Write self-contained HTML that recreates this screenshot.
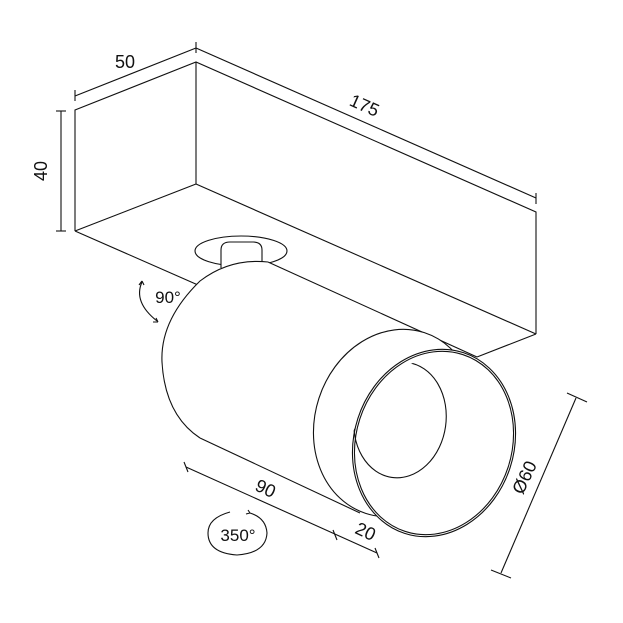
<!DOCTYPE html>
<html><head><style>body{margin:0;background:#fff}svg{display:block}text{font-family:"Liberation Sans",sans-serif;fill:#111}</style></head>
<body>
<svg width="623" height="623" viewBox="0 0 623 623" xmlns="http://www.w3.org/2000/svg" fill="none" stroke="#111" stroke-width="1.1">
<defs>
<clipPath id="fc"><ellipse cx="434" cy="443" rx="78" ry="93" transform="rotate(18 434 443)"/></clipPath>
</defs>
<rect width="623" height="623" fill="#fff" stroke="none"/>
<polyline points="75,231 75,110 196,62 536,212 536,334"/>
<line x1="196" y1="62" x2="196" y2="184"/>
<line x1="75" y1="231" x2="196" y2="184"/>
<line x1="196" y1="184" x2="536" y2="334"/>
<line x1="75" y1="231" x2="198" y2="285"/>
<line x1="536" y1="334" x2="477" y2="357"/>
<line x1="75" y1="96" x2="196" y2="48"/>
<line x1="75" y1="90" x2="75" y2="101"/>
<line x1="196" y1="42" x2="196" y2="53"/>
<line x1="196" y1="48" x2="536" y2="198"/>
<line x1="536" y1="193" x2="536" y2="204"/>
<line x1="61" y1="111" x2="61" y2="231"/>
<line x1="56" y1="111" x2="66" y2="111"/>
<line x1="56" y1="231" x2="66" y2="231"/>
<text x="125" y="68" font-size="18" stroke="none" text-anchor="middle">50</text>
<text x="0" y="0" font-size="18" stroke="none" text-anchor="middle" transform="translate(362,111) rotate(24)">175</text>
<text x="0" y="0" font-size="18" stroke="none" text-anchor="middle" transform="translate(47,171) rotate(-90)">40</text>
<ellipse cx="241" cy="251" rx="46" ry="15"/>
<path d="M221,268 L221,250 Q221,242 230,242 L253,242 Q262,242 262,250 L262,262" fill="#fff"/>
<path d="M268,262 Q230,258 200,281 Q160,320 162,362 Q165,415 200,438 L400,530 L477,357 Z" fill="#fff" stroke="none"/>
<path d="M268,262 Q230,258 200,281 Q160,320 162,362 Q165,415 200,438"/>
<path d="M200,438 L360,513"/>
<path d="M268,262 L477,357"/>
<ellipse cx="395" cy="423" rx="80" ry="95" transform="rotate(18 395 423)" fill="#fff"/>
<ellipse cx="434" cy="443" rx="80" ry="95" transform="rotate(18 434 443)" fill="#fff"/>
<ellipse cx="434" cy="443" rx="78" ry="93" transform="rotate(18 434 443)"/>
<ellipse cx="400" cy="420" rx="46" ry="58" transform="rotate(8 400 420)" clip-path="url(#fc)"/>
<line x1="186" y1="467" x2="377" y2="553"/>
<line x1="184" y1="462" x2="188" y2="472"/>
<line x1="333" y1="530" x2="337" y2="540"/>
<line x1="375" y1="548" x2="379" y2="558"/>
<text font-size="18" stroke="none" text-anchor="middle" transform="translate(263,494) rotate(25)">90</text>
<text font-size="18" stroke="none" text-anchor="middle" transform="translate(363,537) rotate(25)">20</text>
<line x1="576" y1="398" x2="501" y2="573"/>
<line x1="567" y1="393" x2="587" y2="402"/>
<line x1="491" y1="570" x2="511" y2="578"/>
<text font-size="18" stroke="none" text-anchor="middle" transform="translate(530,480) rotate(-65)">Ø60</text>
<path d="M230,512 Q208,518 208,533 Q208,553 237,555 Q266,553 267,533 Q266,518 250,513"/>
<path d="M250,513 l-2,-3 M250,513 l-4,1" />
<text x="238" y="541" font-size="17" stroke="none" text-anchor="middle">350°</text>
<path d="M142,282 Q133,302 157,321"/>
<path d="M142,281 l-3,4 M142,281 l2,4"/>
<path d="M158,322 l-5,0 M158,322 l-2,-4"/>
<text x="168" y="303" font-size="17" stroke="none" text-anchor="middle">90°</text>
</svg>
</body></html>
